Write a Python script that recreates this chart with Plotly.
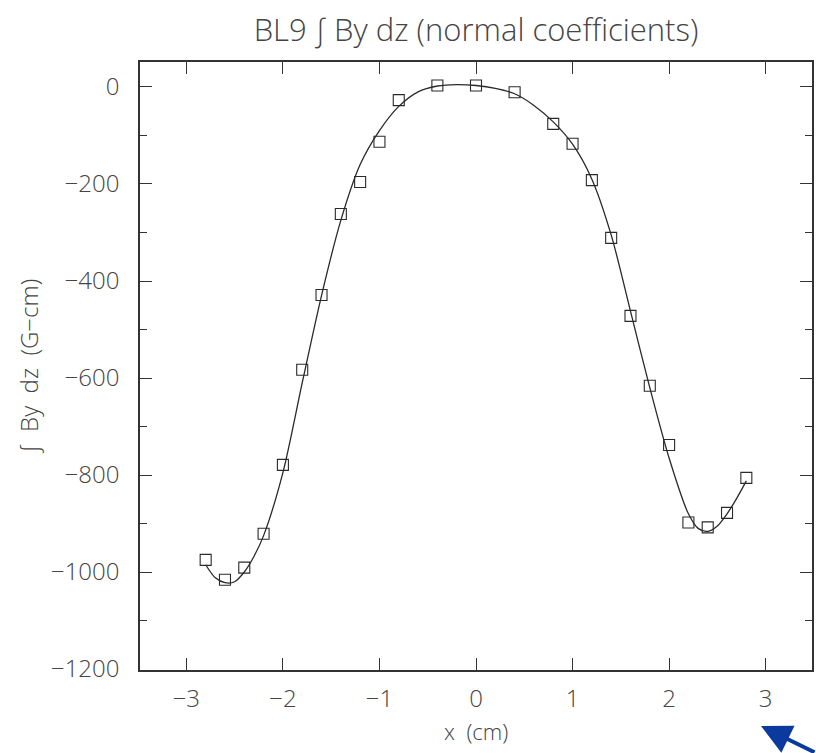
import plotly.graph_objects as go

# measured points
x_pts = [-2.8, -2.6, -2.4, -2.2, -2.0, -1.8, -1.6, -1.4, -1.2, -1.0, -0.8, -0.4,
         0.0, 0.4, 0.8, 1.0, 1.2, 1.4, 1.6, 1.8, 2.0, 2.2, 2.4, 2.6, 2.8]
y_pts = [-975, -1016, -991, -921, -779, -583, -429, -262, -196, -113, -27, 3,
         3, -11, -76, -117, -192, -311, -472, -616, -738, -898, -908, -878, -806]

# fitted curve
x_fit = [-2.8, -2.7, -2.6, -2.5, -2.4, -2.3, -2.2, -2.0, -1.8, -1.6, -1.4, -1.2,
         -1.0, -0.8, -0.6, -0.4, -0.2, 0.0, 0.2, 0.4, 0.6, 0.8, 1.0, 1.2, 1.4,
         1.6, 1.8, 2.0, 2.2, 2.3, 2.4, 2.5, 2.6, 2.7, 2.8]
y_fit = [-985, -1012, -1022, -1020, -1000, -968, -925, -795, -610, -430, -275, -160,
         -90, -40, -10, 2, 5, 3, -3, -14, -38, -72, -118, -190, -305,
         -462, -620, -765, -880, -910, -916, -905, -880, -848, -812]

x_ticks = [-3, -2, -1, 0, 1, 2, 3]
y_ticks = [0, -200, -400, -600, -800, -1000, -1200]

FONT = "Open Sans"
INK = "#444444"

fig = go.Figure()
fig.add_trace(go.Scatter(x=x_fit, y=y_fit, mode="lines",
                         line=dict(color="#2a2a2a", width=1.3, shape="spline", smoothing=0.8),
                         hoverinfo="skip", showlegend=False))
fig.add_trace(go.Scatter(x=x_pts, y=y_pts, mode="markers",
                         marker=dict(symbol="square-open", size=11, color="#2a2a2a",
                                     line=dict(width=1.1)),
                         showlegend=False))

axis_common = dict(showgrid=False, zeroline=False, showline=True, linecolor="#333",
                   linewidth=1.5, mirror="ticks", ticks="inside", ticklen=12,
                   tickcolor="#333", tickwidth=1.3, automargin=False,
                   tickfont=dict(family=FONT, size=24, color=INK, weight=300))

fig.update_layout(
    width=816, height=753,
    margin=dict(l=140, r=4, t=62, b=83),
    paper_bgcolor="white", plot_bgcolor="white",
    title=dict(text="BL9 ∫ By dz (normal coefficients)", xref="paper", x=0.5,
               xanchor="center", yref="container", y=0.96, yanchor="middle",
               font=dict(family=FONT, size=31, color=INK, weight=300)),
    xaxis=dict(range=[-3.48, 3.48], tickvals=x_ticks, ticklabelstandoff=6,
               **axis_common),
    yaxis=dict(range=[-1202, 51.5], tickvals=y_ticks, ticklabelstandoff=14,
               minor=dict(dtick=100, tick0=0, ticks="inside", ticklen=7,
                          tickcolor="#333", tickwidth=1.2),
               title=dict(text="∫  By  dz  (G−cm)", standoff=6,
                          font=dict(family=FONT, size=24, color=INK, weight=300)),
               **axis_common),
)

# x-axis title placed as annotation to sit close to the tick labels
fig.add_annotation(xref="paper", yref="paper", x=0.5, y=-(731 - 670) / 608,
                   xanchor="center", yanchor="middle", showarrow=False,
                   text="x  (cm)", font=dict(family=FONT, size=22, color=INK, weight=300))

fig.add_annotation(xref="paper", yref="paper", x=(761 - 140) / 672, y=-(726 - 670) / 608,
                   ax=70, ay=29, showarrow=True, arrowhead=2, arrowsize=1.5,
                   arrowwidth=4, arrowcolor="#0b3a9e", text="")

fig.write_html("out.html", config={"displayModeBar": False},
               post_script="document.body.style.margin='0';document.body.style.overflow='hidden';")
